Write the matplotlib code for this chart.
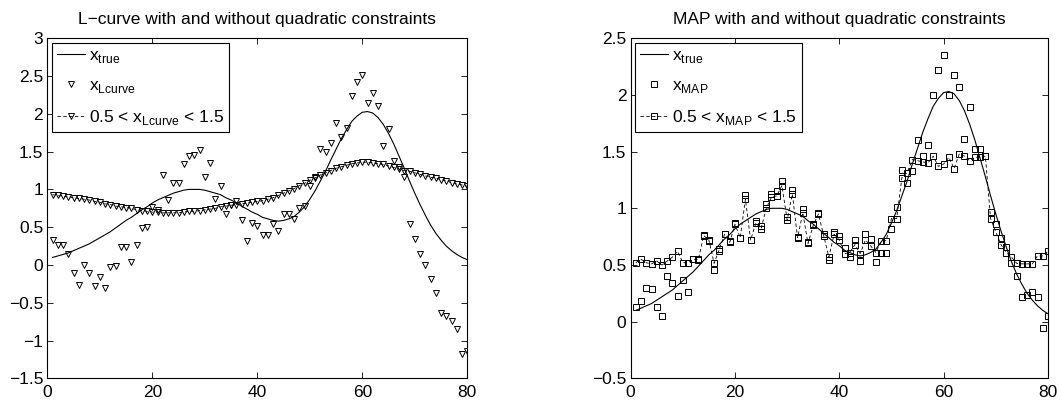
import matplotlib

matplotlib.use("Agg")
import matplotlib.pyplot as plt
import numpy as np
from matplotlib.ticker import FuncFormatter

# sample index 1..80
x_idx = np.arange(1, 81)

x_true = [
    0.10, 0.12, 0.14, 0.16, 0.19, 0.22, 0.25, 0.28, 0.32, 0.36,
    0.40, 0.44, 0.49, 0.54, 0.59, 0.63, 0.68, 0.73, 0.77, 0.82,
    0.86, 0.89, 0.92, 0.95, 0.97, 0.99, 1.00, 1.00, 1.00, 0.99,
    0.97, 0.95, 0.93, 0.89, 0.86, 0.82, 0.78, 0.74, 0.70, 0.67,
    0.63, 0.61, 0.59, 0.58, 0.59, 0.61, 0.64, 0.70, 0.77, 0.87,
    0.98, 1.11, 1.24, 1.39, 1.53, 1.67, 1.79, 1.90, 1.97, 2.02,
    2.03, 2.01, 1.95, 1.86, 1.74, 1.60, 1.44, 1.28, 1.11, 0.95,
    0.80, 0.66, 0.53, 0.42, 0.33, 0.25, 0.19, 0.14, 0.10, 0.07,
]

x_lcurve = [
    0.33, 0.26, 0.26, 0.14, -0.11, -0.27, 0.00, -0.11, -0.28, -0.16,
    -0.31, -0.02, -0.01, 0.24, 0.24, 0.04, 0.27, 0.49, 0.50, 0.77,
    0.73, 1.19, 0.86, 1.08, 1.08, 1.34, 1.44, 1.46, 1.52, 1.17,
    1.35, 0.87, 1.04, 0.68, 0.80, 0.84, 0.60, 0.32, 0.55, 0.51,
    0.40, 0.40, 0.54, 0.45, 0.68, 0.68, 0.61, 0.75, 0.78, 1.05,
    1.16, 1.53, 1.50, 1.62, 1.88, 1.69, 1.81, 2.23, 2.42, 2.52,
    2.14, 2.27, 2.10, 1.58, 1.80, 1.37, 1.30, 1.17, 0.54, 0.34,
    0.15, 0.00, -0.18, -0.37, -0.63, -0.68, -0.74, -0.85, -1.18, -1.14,
]

x_lcurve_box = [
    0.93, 0.92, 0.91, 0.90, 0.89, 0.88, 0.87, 0.86, 0.84, 0.83,
    0.81, 0.80, 0.78, 0.77, 0.76, 0.75, 0.73, 0.72, 0.71, 0.70,
    0.70, 0.69, 0.69, 0.69, 0.69, 0.70, 0.71, 0.71, 0.72, 0.73,
    0.74, 0.75, 0.77, 0.78, 0.79, 0.80, 0.81, 0.82, 0.83, 0.84,
    0.85, 0.87, 0.89, 0.92, 0.95, 0.98, 1.01, 1.05, 1.08, 1.12,
    1.15, 1.19, 1.22, 1.25, 1.28, 1.30, 1.32, 1.34, 1.35, 1.36,
    1.36, 1.35, 1.34, 1.33, 1.31, 1.29, 1.27, 1.25, 1.24, 1.22,
    1.20, 1.18, 1.16, 1.15, 1.13, 1.11, 1.09, 1.07, 1.06, 1.04,
]

x_map = [
    0.13, 0.185, 0.30, 0.29, 0.13, 0.05, 0.40, 0.34, 0.23, 0.37,
    0.26, 0.55, 0.545, 0.765, 0.71, 0.46, 0.62, 0.77, 0.71, 0.87,
    0.74, 1.12, 0.72, 0.89, 0.84, 1.04, 1.13, 1.15, 1.245, 0.92,
    1.16, 0.745, 0.99, 0.70, 0.86, 0.96, 0.77, 0.54, 0.79, 0.76,
    0.65, 0.57, 0.72, 0.535, 0.77, 0.73, 0.53, 0.61, 0.61, 0.82,
    1.01, 1.34, 1.22, 1.33, 1.60, 1.46, 1.56, 2.00, 2.22, 2.35,
    2.00, 2.18, 2.07, 1.61, 1.89, 1.52, 1.52, 1.46, 0.97, 0.86,
    0.735, 0.66, 0.52, 0.40, 0.22, 0.235, 0.26, 0.22, -0.06, 0.05,
]

x_map_box = [
    0.52, 0.55, 0.52, 0.51, 0.535, 0.50, 0.535, 0.57, 0.62, 0.52,
    0.52, 0.55, 0.55, 0.76, 0.72, 0.515, 0.64, 0.77, 0.70, 0.86,
    0.74, 1.08, 0.72, 0.87, 0.82, 1.00, 1.10, 1.11, 1.20, 0.90,
    1.125, 0.74, 0.96, 0.69, 0.85, 0.95, 0.76, 0.57, 0.77, 0.72,
    0.60, 0.61, 0.68, 0.60, 0.72, 0.67, 0.61, 0.71, 0.715, 0.91,
    0.91, 1.27, 1.315, 1.43, 1.42, 1.41, 1.40, 1.46, 1.37, 1.39,
    1.45, 1.35, 1.48, 1.46, 1.42, 1.45, 1.45, 1.46, 0.91, 0.79,
    0.68, 0.61, 0.57, 0.515, 0.51, 0.51, 0.51, 0.58, 0.58, 0.62,
]

plt.rcParams["font.family"] = ["Liberation Sans", "DejaVu Sans"]
plt.rcParams["font.size"] = 12
plt.rcParams["axes.linewidth"] = 0.8

# matlab style labels: 3, 2.5, 2, ... with a real minus sign
tick_fmt = FuncFormatter(lambda v, pos: ("%g" % v).replace("-", "\u2212"))


def draw_panel(ax, est, est_box, marker, name, title, ylim, yticks):
    ax.plot(x_idx, x_true, "-", color="black", lw=0.8,
            label=r"x$_\mathregular{true}$")
    ax.plot(x_idx, est, linestyle="none", marker=marker, ms=4.5, mfc="none",
            mec="black", mew=0.7, label=r"x$_\mathregular{%s}$" % name)
    ax.plot(x_idx, est_box, linestyle=(0, (4, 3)), lw=0.6, color="black",
            marker=marker, ms=4.5, mfc="none", mec="black", mew=0.7,
            label=r"0.5 < x$_\mathregular{%s}$ < 1.5" % name)
    ax.set_xlim(0, 80)
    ax.set_ylim(*ylim)
    ax.set_xticks([0, 20, 40, 60, 80])
    ax.set_yticks(yticks)
    ax.xaxis.set_major_formatter(tick_fmt)
    ax.yaxis.set_major_formatter(tick_fmt)
    ax.tick_params(direction="in", top=True, right=True, length=4, width=0.6,
                   labelsize=12.5, pad=3)
    ax.tick_params(axis="x", pad=5)
    ax.set_title(title, fontsize=12.5, pad=10)
    leg = ax.legend(loc="upper left", fancybox=False, framealpha=1,
                    edgecolor="black", fontsize=12.5, handlelength=1.6,
                    handletextpad=0.25, borderpad=0.3, labelspacing=0.75,
                    borderaxespad=0.25, numpoints=1)
    leg.get_frame().set_linewidth(0.8)


fig = plt.figure(figsize=(10.61, 4.04), dpi=100)
ax1 = fig.add_axes([0.0446, 0.0634, 0.3958, 0.842])
ax2 = fig.add_axes([0.5944, 0.0634, 0.3933, 0.842])

draw_panel(ax1, x_lcurve, x_lcurve_box, "v", "Lcurve",
           "L\u2212curve with and without quadratic constraints",
           (-1.5, 3), np.arange(-1.5, 3.01, 0.5))
draw_panel(ax2, x_map, x_map_box, "s", "MAP",
           "MAP with and without quadratic constraints",
           (-0.5, 2.5), np.arange(-0.5, 2.51, 0.5))

fig.savefig("out.png", dpi=100)
